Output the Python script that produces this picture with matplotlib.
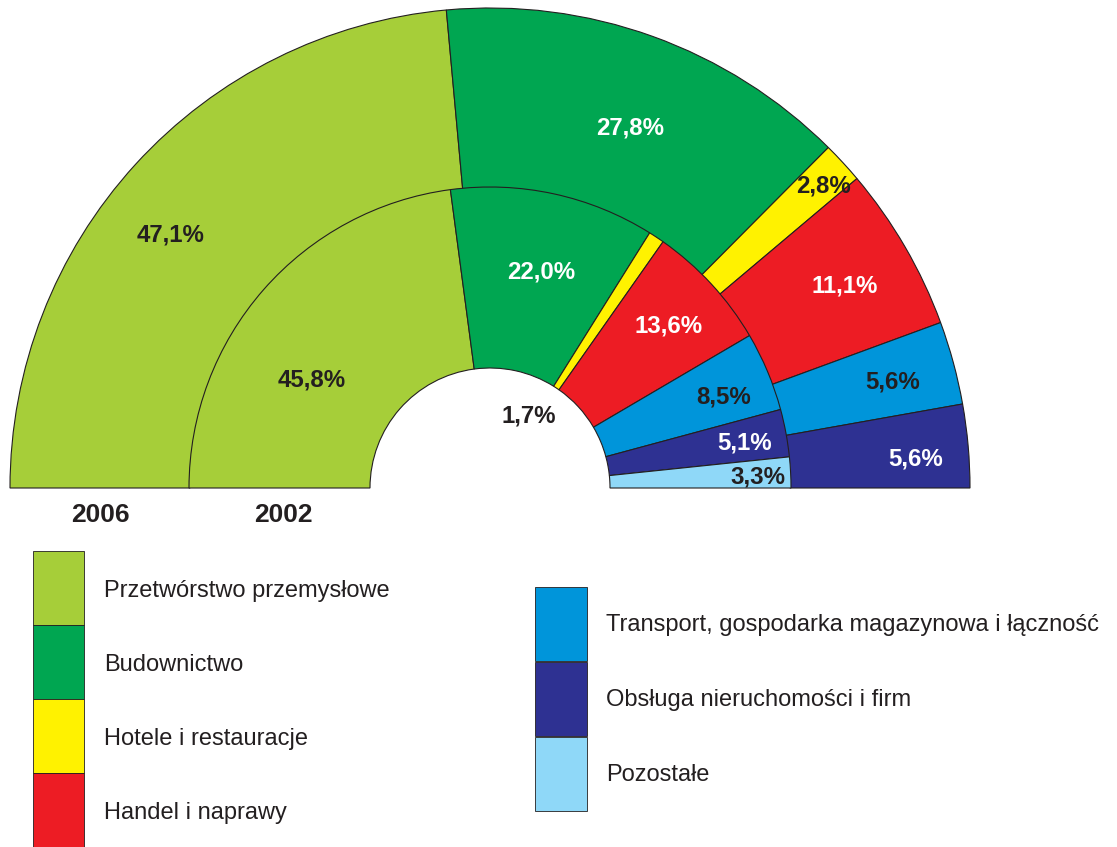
import numpy as np
import matplotlib
matplotlib.use("Agg")
import matplotlib.pyplot as plt
from matplotlib.patches import Rectangle

# dane: udział sektorów (%)
categories = ["Przetwórstwo przemysłowe", "Budownictwo", "Hotele i restauracje",
              "Handel i naprawy", "Transport, gospodarka magazynowa i łączność",
              "Obsługa nieruchomości i firm", "Pozostałe"]
colors = ["#a6ce39", "#00a651", "#fff200", "#ed1c24", "#0095da", "#2e3192", "#8fd8f8"]
text_colors = ["#231f20", "white", "#231f20", "white", "#231f20", "white", "#231f20"]

values_2006 = [47.1, 27.8, 2.8, 11.1, 5.6, 5.6]
values_2002 = [45.8, 22.0, 1.7, 13.6, 8.5, 5.1, 3.3]
years = ["2006", "2002"]

plt.rcParams['font.family'] = ['Liberation Sans', 'DejaVu Sans']
EDGE = "#231f20"

W, H = 1117, 847
fig = plt.figure(figsize=(W / 100, H / 100), dpi=100)
ax = fig.add_axes([0, 0, 1, 1])

cx, cy = 490, H - 488
center = (cx, cy)

w06, _ = ax.pie(np.array(values_2006) / 200, radius=480, center=center, startangle=180,
                counterclock=False, normalize=False, colors=colors[:len(values_2006)],
                wedgeprops=dict(width=180, edgecolor=EDGE, linewidth=0.8))
w02, _ = ax.pie(np.array(values_2002) / 200, radius=301, center=center, startangle=180,
                counterclock=False, normalize=False, colors=colors,
                wedgeprops=dict(width=181, edgecolor=EDGE, linewidth=0.8))

# położenie etykiet: promień i korekta kąta
outer_pos = [(407, 4), (386, -1.5), (450, -0.5), (408, -0.5), (416, -0.3), (427, -1.2)]
inner_pos = [(209, 10), (222, -1), (82, 5), (241, -0.5), (251, -1.5), (259, -0.5), (268, -0.6)]

def put_labels(wedges, vals, pos):
    for i, (w, v) in enumerate(zip(wedges, vals)):
        r, da = pos[i]
        ang = np.deg2rad((w.theta1 + w.theta2) / 2 + da)
        ax.text(cx + r * np.cos(ang), cy + r * np.sin(ang),
                f"{v:.1f}%".replace(".", ","), ha="center", va="center",
                fontsize=17.3, fontweight="bold", color=text_colors[i])

put_labels(w06, values_2006, outer_pos)
put_labels(w02, values_2002, inner_pos)

for yr, x in zip(years, [100, 283]):
    ax.text(x, H - 515, yr, ha="center", va="center", fontsize=19,
            fontweight="bold", color=EDGE)

# legenda
left_tops = [551, 625, 699, 773]
for i, top in enumerate(left_tops):
    ax.add_patch(Rectangle((33, H - top - 74), 51, 74, facecolor=colors[i],
                           edgecolor=EDGE, linewidth=0.6))
    ax.text(104, H - top - 40, categories[i], ha="left", va="center",
            fontsize=17, color=EDGE)
right_tops = [587, 662, 737]
for j, top in enumerate(right_tops):
    i = j + 4
    ax.add_patch(Rectangle((535, H - top - 74), 52, 74, facecolor=colors[i],
                           edgecolor=EDGE, linewidth=0.6))
    ax.text(606, H - top - 38, categories[i], ha="left", va="center",
            fontsize=17, color=EDGE)

ax.set_xlim(0, W)
ax.set_ylim(0, H)
ax.set_aspect("equal")
ax.axis("off")

fig.savefig("out.png", dpi=100, facecolor="white")
